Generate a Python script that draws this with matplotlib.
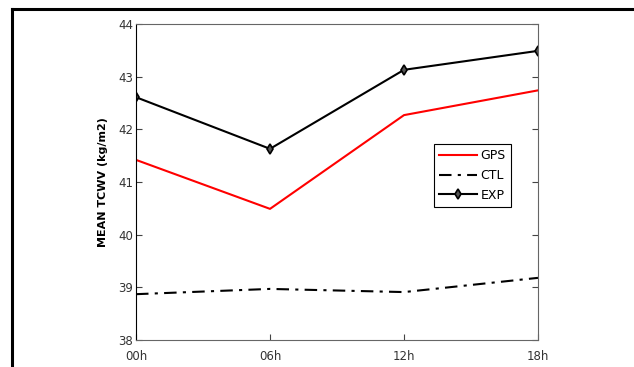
import matplotlib.pyplot as plt
import numpy as np

hours = ['00h', '06h', '12h', '18h']
gps = [41.42, 40.49, 42.27, 42.74]
ctl = [38.87, 38.97, 38.91, 39.18]
exp = [42.61, 41.63, 43.13, 43.49]

fig = plt.figure(figsize=(6.34, 3.67), dpi=100)
# frame around figure (only left and top visible in crop)
fig.add_artist(plt.Line2D([12/634, 12/634], [0, 1-8.5/367], color='black', lw=2.2))
fig.add_artist(plt.Line2D([12/634, 1], [1-8.5/367, 1-8.5/367], color='black', lw=2.2))

ax = fig.add_axes([136/634, 1-340/367, (538-136)/634, (340-24)/367])
x = np.arange(len(hours))
ax.plot(x, gps, color='red', lw=1.5, label='GPS')
ax.plot(x, ctl, color='black', lw=1.5, ls=(0, (6, 3, 1.5, 3)), label='CTL')
ax.plot(x, exp, color='black', lw=1.5, marker='d', ms=5, mfc='#555555', mec='black', mew=1.2, label='EXP')

ax.set_xlim(0, 3)
ax.set_ylim(38, 44)
ax.set_xticks(x)
ax.set_xticklabels(hours)
ax.set_yticks(np.arange(38, 45, 1))
ax.tick_params(direction='in', length=4, labelsize=8.5, colors='#444444', labelcolor='#333333', right=True, top=False, pad=2)
ax.tick_params(axis='x', pad=7)
for s in ['top', 'right', 'bottom']:
    ax.spines[s].set_color('#666666')
ax.spines['left'].set_color('black')
ax.set_ylabel('MEAN TCWV (kg/m2)', fontsize=8, fontweight='bold', labelpad=7)

leg = ax.legend(loc='upper left', bbox_to_anchor=((434-136)/402, 1-(144-24)/316), fontsize=9,
                fancybox=False, framealpha=1, edgecolor='black', handlelength=3, borderpad=0.4,
                labelspacing=0.55, handletextpad=0.3, borderaxespad=0)
leg.get_frame().set_linewidth(0.8)

fig.savefig('out.png', dpi=100)
